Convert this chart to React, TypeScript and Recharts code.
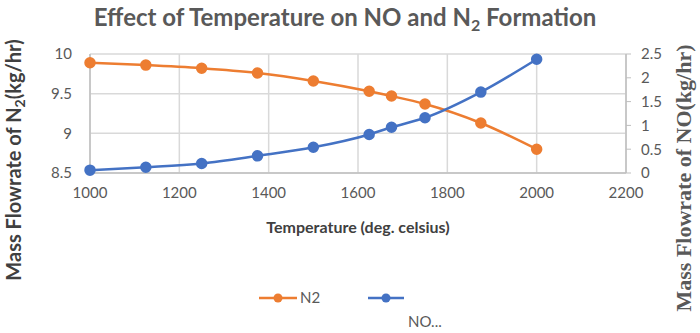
import { LineChart, Line, XAxis, YAxis, CartesianGrid, Legend } from 'recharts';

const temperatures = [1000, 1125, 1250, 1375, 1500, 1625, 1675, 1750, 1875, 2000];
const n2Flow = [9.89, 9.86, 9.82, 9.76, 9.66, 9.53, 9.47, 9.37, 9.13, 8.8];
const noFlow = [0.06, 0.12, 0.2, 0.36, 0.54, 0.81, 0.96, 1.16, 1.7, 2.39];

const xTicks = [1000, 1200, 1400, 1600, 1800, 2000, 2200];
const n2Ticks = [8.5, 9, 9.5, 10];
const noTicks = [0, 0.5, 1, 1.5, 2, 2.5];

const rows = temperatures.map((t, i) => ({ temp: t, n2: n2Flow[i], no: noFlow[i] }));

const ORANGE = '#ED7D31';
const BLUE = '#4472C4';
const GRID = '#D9D9D9';
const AXIS = '#BFBFBF';
const TICK = '#595959';
const SANS = 'Lato, "Open Sans", sans-serif';

function LegendBox() {
  return (
    <div style={{ position: 'relative', width: 700, height: 40, fontFamily: SANS, fontSize: 15, color: TICK }}>
      <svg width={700} height={40} style={{ position: 'absolute', left: 0, top: 0 }}>
        <line x1={259} y1={8} x2={297} y2={8} stroke={ORANGE} strokeWidth={2.5} />
        <circle cx={278} cy={8} r={4.5} fill={ORANGE} />
        <line x1={368} y1={8} x2={404} y2={8} stroke={BLUE} strokeWidth={2.5} />
        <circle cx={386} cy={8} r={4.5} fill={BLUE} />
      </svg>
      <span style={{ position: 'absolute', left: 300, top: -2 }}>N2</span>
      <span style={{ position: 'absolute', left: 408, top: 22 }}>NO...</span>
    </div>
  );
}

export default function App() {
  return (
    <div style={{ position: 'absolute', left: 0, top: 0, width: 700, height: 333, background: '#fff' }}>
      <LineChart width={700} height={333} data={rows} margin={{ top: 54, right: 24, bottom: 90, left: 40 }}>
        <CartesianGrid yAxisId="left" stroke={GRID} strokeWidth={1.5} />
        <XAxis
          dataKey="temp"
          type="number"
          domain={[1000, 2200]}
          ticks={xTicks}
          interval={0}
          height={30}
          tickLine={false}
          axisLine={{ stroke: AXIS, strokeWidth: 1.5 }}
          tick={{ fill: TICK, fontSize: 15, fontFamily: SANS }}
          tickMargin={8}
        />
        <YAxis
          yAxisId="left"
          domain={[8.5, 10]}
          ticks={n2Ticks}
          interval={0}
          width={50}
          tickLine={false}
          axisLine={{ stroke: AXIS, strokeWidth: 1.5 }}
          tick={{ fill: TICK, fontSize: 15, fontFamily: SANS }}
          tickMargin={12}
        />
        <YAxis
          yAxisId="right"
          orientation="right"
          domain={[0, 2.5]}
          ticks={noTicks}
          interval={0}
          width={50}
          tickSize={5}
          tickLine={{ stroke: AXIS }}
          axisLine={{ stroke: AXIS, strokeWidth: 1.5 }}
          tick={{ fill: TICK, fontSize: 15, fontFamily: SANS }}
          tickMargin={10}
        />
        <Line
          yAxisId="left"
          type="monotone"
          dataKey="n2"
          name="N2"
          stroke={ORANGE}
          strokeWidth={2.5}
          dot={{ r: 4.5, fill: ORANGE, stroke: ORANGE }}
          isAnimationActive={false}
        />
        <Line
          yAxisId="right"
          type="monotone"
          dataKey="no"
          name="NO"
          stroke={BLUE}
          strokeWidth={2.5}
          dot={{ r: 4.5, fill: BLUE, stroke: BLUE }}
          isAnimationActive={false}
        />
        <Legend
          content={() => <LegendBox />}
          wrapperStyle={{ position: 'absolute', left: 0, top: 290, width: 700 }}
        />
      </LineChart>
      <svg width={700} height={333} style={{ position: 'absolute', left: 0, top: 0, pointerEvents: 'none' }}>
        <text x={345} y={26} textAnchor="middle" fill={TICK} fontFamily={SANS} fontWeight="bold" fontSize={24}>
          Effect of Temperature on NO and N
          <tspan dy={5} fontSize={16}>2</tspan>
          <tspan dy={-5}> Formation</tspan>
        </text>
        <text x={358} y={233} textAnchor="middle" fill="#404040" fontFamily={SANS} fontWeight="bold" fontSize={16}>
          Temperature (deg. celsius)
        </text>
        <text
          transform="translate(21,160) rotate(-90)"
          textAnchor="middle"
          fill="#404040"
          fontFamily={SANS}
          fontWeight="bold"
          fontSize={20}
        >
          Mass Flowrate of  N
          <tspan dy={4} fontSize={14}>2</tspan>
          <tspan dy={-4}>(kg/hr)</tspan>
        </text>
        <text
          transform="translate(691,178) rotate(-90)"
          textAnchor="middle"
          fill={TICK}
          fontFamily='"Liberation Serif", serif'
          fontWeight="bold"
          fontSize={22}
        >
          Mass Flowrate of  NO(kg/hr)
        </text>
      </svg>
    </div>
  );
}
